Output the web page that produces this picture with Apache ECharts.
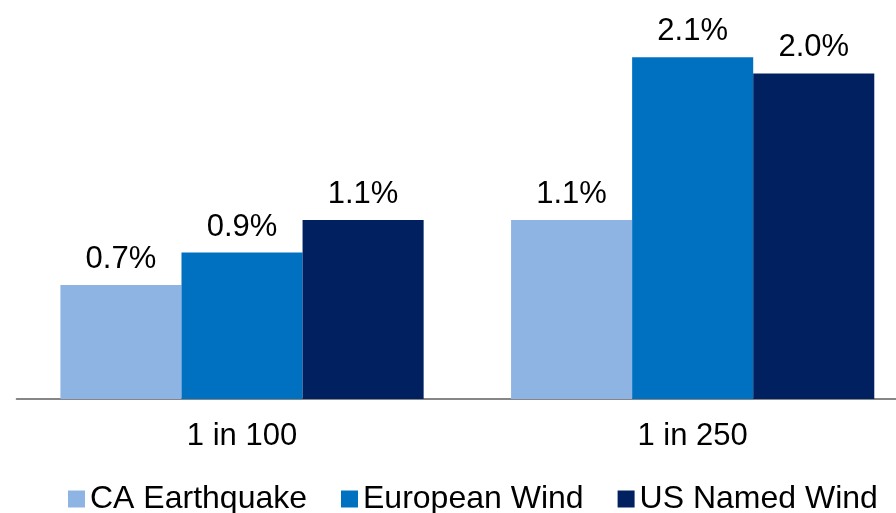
<!DOCTYPE html>
<html>
<head>
<meta charset="utf-8">
<script src="https://cdn.jsdelivr.net/npm/echarts@6/dist/echarts.min.js"></script>
<style>
  html, body { margin: 0; padding: 0; background: #ffffff; overflow: hidden; width: 896px; height: 513px; }
  /* the plot area runs a little past the right edge of the window */
  #chart { width: 918px; height: 513px; }
</style>
</head>
<body>
<div id="chart"></div>
<script>
// Return-period scenarios and loss estimates (% of capital)
const categories = ['1 in 100', '1 in 250'];
const seriesNames = ['CA Earthquake', 'European Wind', 'US Named Wind'];
const caEarthquake = [0.7, 1.1];
const europeanWind = [0.9, 2.1];
const usNamedWind = [1.1, 2.0];
const seriesColors = ['#8EB4E3', '#0070C0', '#002060'];

const FONT = '"Liberation Sans", Arial, sans-serif';
const seriesData = [caEarthquake, europeanWind, usNamedWind];

const chart = echarts.init(document.getElementById('chart'));
chart.setOption({
  animation: false,
  backgroundColor: '#ffffff',
  grid: { left: 16.7, top: 8.3, right: 0, bottom: 114, containLabel: false },
  legend: {
    data: seriesNames,
    left: 63,
    top: 478,
    icon: 'rect',
    itemWidth: 17,
    itemHeight: 17,
    itemGap: 34,
    textStyle: { fontFamily: FONT, fontSize: 32, color: '#000000' }
  },
  xAxis: {
    type: 'category',
    data: categories,
    axisTick: { show: false },
    axisLine: { show: true, lineStyle: { color: '#868686', width: 2 } },
    axisLabel: { fontFamily: FONT, fontSize: 31, color: '#000000', margin: 22 }
  },
  yAxis: {
    type: 'value',
    min: 0,
    max: 2.4,
    show: false,
    splitLine: { show: false }
  },
  series: seriesNames.map((name, i) => ({
    name: name,
    type: 'bar',
    data: seriesData[i],
    barGap: '0%',
    barCategoryGap: '19.4%',
    itemStyle: { color: seriesColors[i] },
    label: {
      show: true,
      position: 'top',
      distance: 10,
      fontFamily: FONT,
      fontSize: 31,
      color: '#000000',
      formatter: p => p.value.toFixed(1) + '%'
    }
  }))
});
</script>
</body>
</html>
